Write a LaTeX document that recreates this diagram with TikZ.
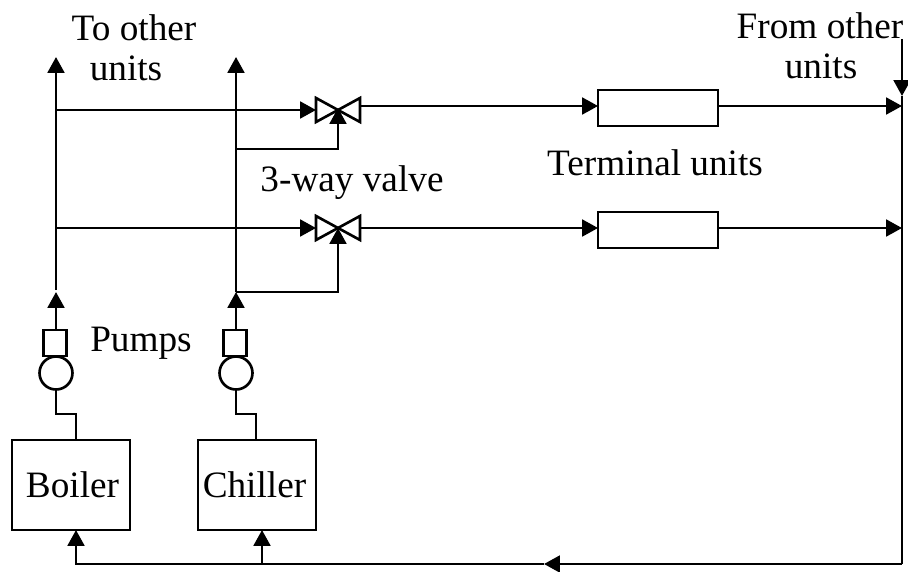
\documentclass[tikz,border=0pt]{standalone}
\usepackage{fontspec}
\setmainfont{Liberation Serif}
\usetikzlibrary{arrows.meta}

\begin{document}
\begin{tikzpicture}[x=0.02cm,y=-0.02cm,line width=1.5pt,>={Triangle[length=9pt,width=9.5pt]}]

%
% Styles
%
\tikzstyle{label} = [font=\fontsize{21.2}{26}\selectfont,inner sep=0pt,align=center]
\tikzstyle{plant} = [rectangle,draw,minimum width=2.36cm,minimum height=1.8cm,inner sep=0pt,outer sep=0pt,font=\fontsize{21.2}{26}\selectfont]
\tikzstyle{terminal} = [rectangle,draw,minimum width=2.4cm,minimum height=0.72cm,outer sep=0pt]
\tikzstyle{pumpbox} = [rectangle,draw,minimum width=0.46cm,minimum height=0.52cm,outer sep=0pt]
\tikzstyle{pump} = [circle,draw,minimum size=0.66cm,inner sep=0pt,outer sep=0pt]
\tikzstyle{valve} = [rectangle,minimum width=0.88cm,minimum height=0.48cm,inner sep=0pt,outer sep=0pt]

\useasboundingbox (0,0) rectangle (908,571);

\node[plant] (boiler)  at ( 71,485) {\hspace*{0.06cm}Boiler};
\node[plant] (chiller) at (257,485) {\hspace*{-0.1cm}Chiller};
\node[pumpbox] (boxa) at ( 55,343) {};
\node[pumpbox] (boxb) at (235,343) {};
\node[pump] (pumpa) at ( 56,373) {};
\node[pump] (pumpb) at (236,373) {};
\node[valve] (va) at (338,110) {};
\node[valve] (vb) at (338,228) {};
\node[terminal] (ta) at (658,108) {};
\node[terminal] (tb) at (658,230) {};

\node[label] (toother) at (134,28) {To other};
\node[label] (tounits) at (126,68) {units};
\node[label] (fromother) at (820,26) {From other};
\node[label] (fromunits) at (821,66) {units};
\node[label] (termlabel) at (655,163) {Terminal units};
\node[label] (valvelabel) at (352,183) {3-way valve};
\node[label] (pumplabel) at (141,343) {Pumps};

\coordinate (topa) at ( 56,57);
\coordinate (topb) at (236,57);
\coordinate (basea) at ( 56,290);
\coordinate (baseb) at (236,292);
\coordinate (tipa) at ( 56,292);
\coordinate (ina) at ( 56,110);
\coordinate (inb) at ( 56,228);
\coordinate (bypa) at (236,149);
\coordinate (bypb) at (236,292);
\coordinate (outa) at (360,106);
\coordinate (outb) at (360,228);
\coordinate (mainr) at (902,106);
\coordinate (mainb) at (902,228);
\coordinate (feed) at (902,39);
\coordinate (feedtip) at (902,96);
\coordinate (corner) at (902,564);
\coordinate (retmid) at (544,564);
\coordinate (retb) at (262,564);
\coordinate (reta) at ( 76,564);
\coordinate (stepa) at ( 56,414);
\coordinate (stepb) at (236,414);
\coordinate (stepc) at ( 76,414);
\coordinate (stepd) at (256,414);

% valves
\foreach \v in {va,vb}
  \draw (\v.north west) -- (\v.south east) -- (\v.north east) -- (\v.south west) -- cycle;

% risers
\draw[->] (basea) -- (topa);
\draw[->] (baseb) -- (topb);
\draw[->] (boxa.north -| tipa) -- (tipa);
\draw[->] (boxb.north -| baseb) -- (baseb);

% pump legs
\draw (pumpa.south) -- (stepa) -- (stepc) -- (stepc |- boiler.north);
\draw (pumpb.south) -- (stepb) -- (stepd) -- (stepd |- chiller.north);

% supply lines
\draw[->] (ina) -- (va.west);
\draw[->] (inb) -- (vb.west);
\draw[->] (bypa) -- (bypa -| va) -- ([yshift=0.04cm]va.center);
\draw[->] (bypb) -- (bypb -| vb) -- (vb.center);
\draw[->] (outa) -- (outa -| ta.west);
\draw[->] (outb) -- (outb -| tb.west);
\draw[->] (outa -| ta.east) -- (mainr);
\draw[->] (outb -| tb.east) -- (mainb);

% return
\draw[->] (feed) -- (feedtip);
\draw (feedtip) -- (corner);
\draw[->] (corner) -- (retmid);
\draw[->] (retmid) -- (reta) -- (reta |- boiler.south);
\draw[->] (retb) -- (retb |- chiller.south);

\end{tikzpicture}
\end{document}
